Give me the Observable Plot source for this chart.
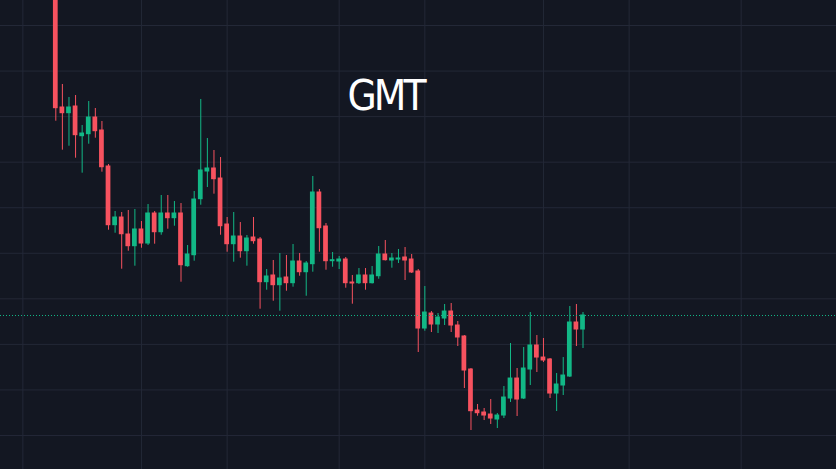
<!DOCTYPE html>
<html>
<head>
<meta charset="utf-8">
<script src="https://cdn.jsdelivr.net/npm/d3@7"></script>
<script src="https://cdn.jsdelivr.net/npm/@observablehq/plot@0.6"></script>
<style>
  html, body { margin: 0; padding: 0; background: #131722; }
  #chart { width: 836px; height: 469px; overflow: hidden; }
</style>
</head>
<body>
<div id="chart"></div>
<script>
const title = "GMT";
const open  = [0.27208,0.24200,0.24075,0.24222,0.23570,0.23614,0.23980,0.23695,0.22905,0.21616,
               0.21785,0.21412,0.21155,0.21522,0.21214,0.21873,0.21462,0.21873,0.21770,0.21873,
               0.20716,0.20957,0.22187,0.22795,0.22861,0.22641,0.21631,0.21199,0.21368,0.21045,
               0.21346,0.21302,0.20365,0.20512,0.20299,0.20468,0.20343,0.20819,0.20584,0.20760,
               0.22334,0.21587,0.20826,0.20819,0.20863,0.20358,0.20343,0.20512,0.20343,0.20496,
               0.20973,0.20841,0.20863,0.20907,0.20863,0.20600,0.19348,0.19677,0.19436,0.19568,
               0.19721,0.19414,0.19173,0.18448,0.17548,0.17504,0.17460,0.17350,0.17438,0.17811,
               0.18250,0.17811,0.18448,0.18975,0.18711,0.18668,0.17921,0.18097,0.18294,0.19480,
               0.19326];
const high  = [0.27427,0.24705,0.24420,0.24463,0.23805,0.24332,0.24178,0.23893,0.22949,0.21917,
               0.21895,0.21939,0.21961,0.21697,0.22070,0.21917,0.22268,0.22268,0.22136,0.22092,
               0.21170,0.22356,0.24376,0.23519,0.23256,0.23102,0.21785,0.21895,0.21675,0.21390,
               0.21785,0.21346,0.20643,0.20841,0.20995,0.20951,0.21192,0.20995,0.20819,0.22685,
               0.22400,0.21653,0.21017,0.20929,0.20907,0.20512,0.20665,0.20665,0.20709,0.21148,
               0.21280,0.20995,0.21083,0.21126,0.20973,0.20643,0.20270,0.19721,0.19677,0.19875,
               0.19897,0.19502,0.19194,0.18470,0.17680,0.17592,0.17789,0.17482,0.18075,0.19019,
               0.18470,0.18931,0.19699,0.19194,0.19129,0.18690,0.18360,0.18711,0.19831,0.19875,
               0.19699];
const low   = [0.23899,0.23263,0.23350,0.23087,0.22758,0.23394,0.23526,0.22780,0.21506,0.21440,
               0.20650,0.21045,0.20716,0.21111,0.21170,0.21199,0.21396,0.21528,0.21594,0.20365,
               0.20694,0.20826,0.22055,0.22444,0.22297,0.21396,0.21023,0.20804,0.20892,0.20716,
               0.21199,0.19772,0.20189,0.19947,0.19728,0.20167,0.20255,0.20496,0.20057,0.20584,
               0.21023,0.20628,0.20694,0.20643,0.20233,0.19882,0.20314,0.20189,0.20325,0.20430,
               0.20830,0.20672,0.20775,0.20402,0.20556,0.18821,0.19289,0.19260,0.19238,0.19414,
               0.19260,0.18953,0.18031,0.17109,0.17423,0.17328,0.17241,0.17153,0.17372,0.17724,
               0.17416,0.17789,0.18097,0.18382,0.18602,0.17811,0.17526,0.17877,0.18272,0.18953,
               0.18909];
const close = [0.24185,0.24075,0.24200,0.23592,0.23629,0.23980,0.23680,0.22889,0.21616,0.21785,
               0.21418,0.21155,0.21522,0.21214,0.21873,0.21462,0.21873,0.21770,0.21873,0.20738,
               0.20973,0.22180,0.22817,0.22861,0.22626,0.21594,0.21199,0.21368,0.21045,0.21324,
               0.21265,0.20365,0.20490,0.20299,0.20446,0.20343,0.20819,0.20584,0.20775,0.22334,
               0.21550,0.20826,0.20848,0.20863,0.20343,0.20336,0.20512,0.20343,0.20512,0.20973,
               0.20848,0.20885,0.20885,0.20841,0.20578,0.19348,0.19699,0.19436,0.19590,0.19721,
               0.19414,0.19151,0.18426,0.17533,0.17489,0.17438,0.17372,0.17438,0.17833,0.18250,
               0.17789,0.18470,0.18975,0.18711,0.18646,0.17921,0.18119,0.18316,0.19480,0.19326,
               0.19634];
const priceTicks = [0.17,0.18,0.19,0.20,0.21,0.22,0.23,0.24,0.25,0.26];
const timeTicks = [-5, 13, 26, 43, 56, 74, 87, 104];

const UP = "#12b886";
const DOWN = "#f7525f";
const GRID = "#232837";

const candles = open.map((o, i) => ({i, open: o, high: high[i], low: low[i], close: close[i]}));
const colorOf = d => d.close >= d.open ? UP : DOWN;
const last = candles[candles.length - 1];

const chart = Plot.plot({
  width: 836,
  height: 469,
  margin: 0,
  style: {background: "#131722", overflow: "hidden"},
  x: {domain: [-8.391, 118.467], axis: null},
  y: {domain: [0.16253, 0.26549], axis: null},
  color: {type: "identity"},
  marks: [
    Plot.gridY(priceTicks, {stroke: GRID, strokeOpacity: 1, strokeWidth: 1}),
    Plot.gridX(timeTicks, {stroke: GRID, strokeOpacity: 1, strokeWidth: 1}),
    Plot.ruleX(candles, {x: "i", y1: "low", y2: "high", stroke: colorOf, strokeWidth: 1, clip: true}),
    Plot.rect(candles, {x1: d => d.i - 0.36, x2: d => d.i + 0.36, y1: "open", y2: "close",
                        fill: colorOf, insetTop: -0.5, insetBottom: -0.5, clip: true}),
    Plot.ruleY([last.close], {stroke: UP, strokeWidth: 1, strokeDasharray: "1,2"}),
    Plot.text([title], {text: d => d, frameAnchor: "top", dx: -33, dy: 109, lineAnchor: "bottom",
                        fill: "#ffffff", fontSize: 42,
                        fontFamily: "'Liberation Sans Narrow', 'DejaVu Sans Condensed', sans-serif"})
  ]
});
d3.select(chart).selectAll("text").attr("letter-spacing", "-3px");
document.getElementById("chart").appendChild(chart);
</script>
</body>
</html>
